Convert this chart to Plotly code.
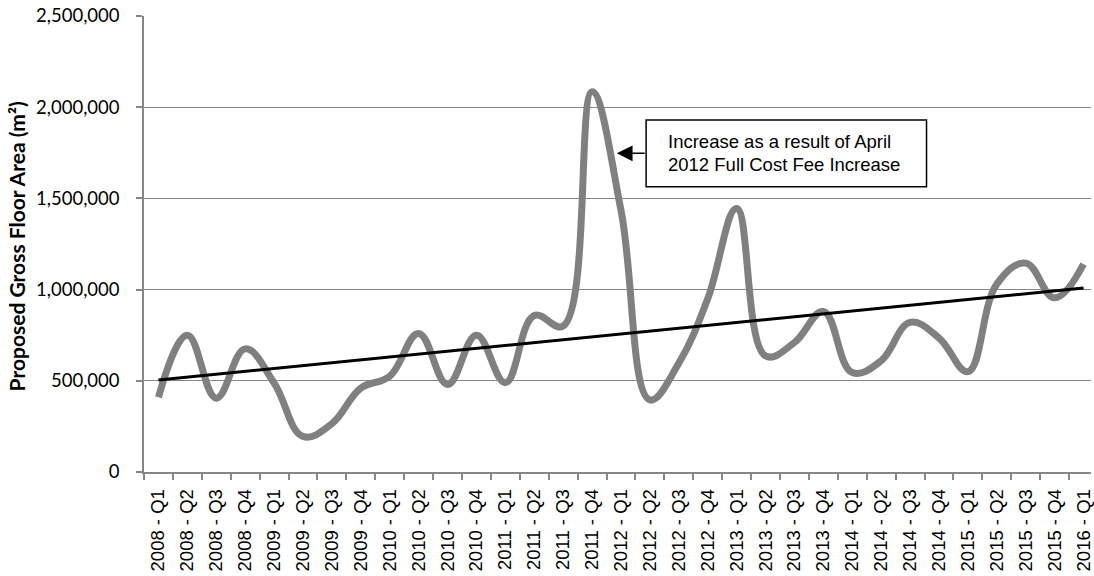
import numpy as np
import plotly.graph_objects as go

# Quarterly categories, 2008 Q1 to 2016 Q1
quarters = [f"{y} - Q{q}" for y in range(2008, 2016) for q in range(1, 5)] + ["2016 - Q1"]

# Proposed gross floor area per quarter (m²)
gfa = [
    410000, 750000, 405000, 675000,      # 2008
    488000, 195000, 265000, 460000,      # 2009
    525000, 760000, 480000, 750000,      # 2010
    490000, 858000, 800000, 2085000,     # 2011
    1435000, 395000, 597000, 950000,     # 2012
    1445000, 636000, 710000, 880000,     # 2013
    545000, 610000, 820000, 735000,      # 2014
    550000, 1030000, 1145000, 955000,    # 2015
    1140000,                             # 2016
]

y_ticks = [0, 500000, 1000000, 1500000, 2000000, 2500000]
y_tick_text = ["0", "500,000", "1,000,000", "1,500,000", "2,000,000", "2,500,000"]

note_lines = ["Increase as a result of April", "2012 Full Cost Fee Increase"]

# Least-squares linear trend of the series
idx = np.arange(len(gfa))
slope, intercept = np.polyfit(idx, np.array(gfa, dtype=float), 1)
trend = slope * idx + intercept

GRID = "#868686"
W, H = 1094, 576
L, R, T, B = 144, 0, 16, 104
plot_w = W - L - R
plot_h = H - T - B
cat_w = 29.0  # pixel width of one quarter


def px_x(px):
    return (px - L) / plot_w


def px_y(py):
    return (H - B - py) / plot_h


fig = go.Figure()

fig.add_trace(go.Scatter(
    x=quarters, y=gfa, mode="lines",
    line=dict(color="#808080", width=7, shape="spline", smoothing=1.15),
    hoverinfo="skip", showlegend=False,
))
fig.add_trace(go.Scatter(
    x=quarters, y=trend, mode="lines",
    line=dict(color="#000000", width=3),
    hoverinfo="skip", showlegend=False,
))

# Callout box with arrow
fig.add_shape(type="rect", xref="paper", yref="paper",
              x0=px_x(647.7), x1=px_x(929), y0=px_y(186.7), y1=px_y(120),
              line=dict(color="#000000", width=1.5), fillcolor="white", layer="above")
for text, py in zip(note_lines, [141.7, 164.0]):
    fig.add_annotation(text=text, xref="paper", yref="paper",
                       x=px_x(668), y=px_y(py), xanchor="left", yanchor="middle",
                       showarrow=False,
                       font=dict(family="Liberation Sans", size=18.5, color="#000000"))

tip_x = (618.3 - L) / cat_w - 0.5
tip_y = (H - B - 153.3) / plot_h * 2500000
fig.add_annotation(x=tip_x, y=tip_y, xref="x", yref="y", text="",
                   showarrow=True, ax=29.4, ay=0, axref="pixel", ayref="pixel",
                   arrowhead=2, arrowsize=2.1, arrowwidth=1.5, arrowcolor="#000000")

# Y axis title
fig.add_annotation(text="Proposed Gross Floor Area (m²)", xref="paper", yref="paper",
                   x=px_x(16), y=px_y(246), textangle=-90, showarrow=False,
                   xanchor="center", yanchor="middle",
                   font=dict(family="Lato", size=21, color="#000000", weight="bold"))

fig.update_layout(
    width=W, height=H,
    margin=dict(l=L, r=R, t=T, b=B, pad=0),
    paper_bgcolor="white", plot_bgcolor="white",
    showlegend=False,
)
fig.update_xaxes(
    type="category", categoryorder="array", categoryarray=quarters,
    range=[-0.5, -0.5 + plot_w / cat_w],
    tickson="boundaries", ticks="outside", ticklen=6, tickwidth=1.5, tickcolor=GRID,
    tickangle=-90, showgrid=False, zeroline=False,
    showline=True, linecolor=GRID, linewidth=1.5,
    tickfont=dict(family="Liberation Sans", size=18.5, color="#000000"),
    ticklabelstandoff=8,
)
fig.update_yaxes(
    range=[0, 2500000], tickvals=y_ticks, ticktext=y_tick_text,
    ticks="outside", ticklen=6, tickwidth=1.5, tickcolor=GRID,
    showgrid=True, gridcolor=GRID, gridwidth=1.2, zeroline=False,
    showline=True, linecolor=GRID, linewidth=1.5,
    tickfont=dict(family="Lato", size=18.5, color="#000000"),
    ticklabelstandoff=13,
)

fig.write_html("out.html")
